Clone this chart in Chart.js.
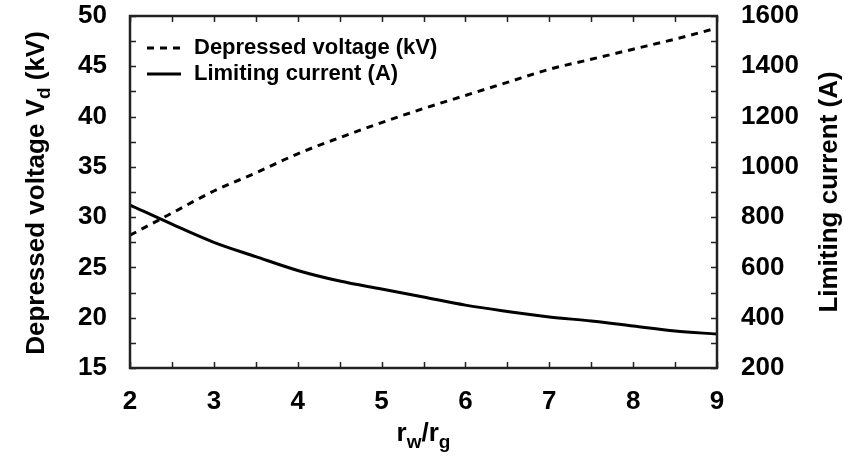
<!DOCTYPE html>
<html>
<head>
<meta charset="utf-8">
<script src="https://cdn.jsdelivr.net/npm/chart.js@4"></script>
<style>
  html, body { margin: 0; padding: 0; background: #fff; }
  canvas { display: block; }
</style>
</head>
<body>
<canvas id="chart" width="844" height="457"></canvas>
<script>
// values
const rRatio = [2, 2.5, 3, 3.5, 4, 4.5, 5, 5.5, 6, 6.5, 7, 7.5, 8, 8.5, 9];
const depressedVoltage = [28.2, 30.4, 32.6, 34.4, 36.3, 37.9, 39.4, 40.8, 42.1, 43.4, 44.7, 45.7, 46.7, 47.7, 48.8];
const limitingCurrent = [848, 772, 700, 643, 588, 546, 514, 482, 450, 425, 403, 387, 367, 347, 335];

const xTicks = [2, 3, 4, 5, 6, 7, 8, 9];
const leftTicks = [15, 20, 25, 30, 35, 40, 45, 50];
const rightTicks = [200, 400, 600, 800, 1000, 1200, 1400, 1600];

const legendLabels = ['Depressed voltage (kV)', 'Limiting current (A)'];

const FONT = '"Liberation Sans", Arial, sans-serif';

// text with a subscript part, pieces = [[text, isSub], ...]
function pieceWidth(ctx, pieces, size, subSize) {
    let w = 0;
    pieces.forEach(p => {
        ctx.font = 'bold ' + (p[1] ? subSize : size) + 'px ' + FONT;
        w += ctx.measureText(p[0]).width;
    });
    return w;
}
function drawPieces(ctx, pieces, x, y, size, subSize, subDrop) {
    pieces.forEach(p => {
        ctx.font = 'bold ' + (p[1] ? subSize : size) + 'px ' + FONT;
        ctx.fillText(p[0], x, p[1] ? y + subDrop : y);
        x += ctx.measureText(p[0]).width;
    });
}

const framePlugin = {
    id: 'frame',
    afterDraw(chart) {
        const ctx = chart.ctx;
        const a = chart.chartArea;
        const xs = chart.scales.x, yl = chart.scales.y, yr = chart.scales.y1;
        const tl = 6;
        ctx.save();
        ctx.strokeStyle = '#222';
        ctx.lineWidth = 1.5;
        ctx.beginPath();
        // inward ticks
        for (let v = 2; v <= 9.001; v += 0.5) {
            const px = Math.round(xs.getPixelForValue(v)) + 0.5;
            ctx.moveTo(px, a.bottom); ctx.lineTo(px, a.bottom - tl);
            ctx.moveTo(px, a.top); ctx.lineTo(px, a.top + tl);
        }
        for (let v = 15; v <= 50.001; v += 2.5) {
            const py = Math.round(yl.getPixelForValue(v)) + 0.5;
            ctx.moveTo(a.left, py); ctx.lineTo(a.left + tl, py);
        }
        for (let v = 200; v <= 1600.001; v += 100) {
            const py = Math.round(yr.getPixelForValue(v)) + 0.5;
            ctx.moveTo(a.right, py); ctx.lineTo(a.right - tl, py);
        }
        ctx.stroke();
        ctx.lineWidth = 2.5;
        ctx.strokeRect(a.left, a.top, a.right - a.left, a.bottom - a.top);

        // legend
        ctx.fillStyle = '#000';
        ctx.textBaseline = 'middle';
        ctx.textAlign = 'left';
        chart.data.datasets.forEach((ds, i) => {
            const y = 48 + i * 26;
            ctx.strokeStyle = ds.borderColor;
            ctx.lineWidth = ds.borderWidth;
            ctx.setLineDash(ds.borderDash || []);
            ctx.beginPath();
            ctx.moveTo(147, y); ctx.lineTo(181, y);
            ctx.stroke();
            ctx.setLineDash([]);
            ctx.font = 'bold 22px ' + FONT;
            ctx.fillText(legendLabels[i], 194, y);
        });

        // axis titles
        ctx.textBaseline = 'alphabetic';
        const leftTitle = [['Depressed voltage V', false], ['d', true], [' (kV)', false]];
        const rightTitle = [['Limiting current (A)', false]];
        const xTitle = [['r', false], ['w', true], ['/r', false], ['g', true]];

        let w = pieceWidth(ctx, leftTitle, 26, 19);
        ctx.save();
        ctx.translate(44, 193);
        ctx.rotate(-Math.PI / 2);
        drawPieces(ctx, leftTitle, -w / 2, 0, 26, 19, 6);
        ctx.restore();

        w = pieceWidth(ctx, rightTitle, 26, 19);
        ctx.save();
        ctx.translate(837, 192);
        ctx.rotate(-Math.PI / 2);
        drawPieces(ctx, rightTitle, -w / 2, 0, 26, 19, 6);
        ctx.restore();

        w = pieceWidth(ctx, xTitle, 26, 19);
        drawPieces(ctx, xTitle, (a.left + a.right) / 2 - w / 2, 441, 26, 19, 7);
        ctx.restore();
    }
};

const tickFont = { family: FONT, size: 26, weight: 'bold' };

new Chart(document.getElementById('chart'), {
    type: 'line',
    data: {
        datasets: [{
            label: legendLabels[0],
            data: rRatio.map((r, i) => ({ x: r, y: depressedVoltage[i] })),
            yAxisID: 'y',
            borderColor: '#000',
            borderWidth: 3,
            borderDash: [7, 6],
            pointRadius: 0,
            cubicInterpolationMode: 'monotone',
            fill: false
        }, {
            label: legendLabels[1],
            data: rRatio.map((r, i) => ({ x: r, y: limitingCurrent[i] })),
            yAxisID: 'y1',
            borderColor: '#000',
            borderWidth: 3,
            pointRadius: 0,
            cubicInterpolationMode: 'monotone',
            fill: false
        }]
    },
    options: {
        responsive: false,
        animation: false,
        layout: { padding: { top: 16, left: 0, right: 0, bottom: 0 } },
        plugins: { legend: { display: false }, tooltip: { enabled: false } },
        scales: {
            x: {
                type: 'linear',
                min: 2, max: 9,
                grid: { display: false },
                border: { display: false },
                afterBuildTicks: s => { s.ticks = xTicks.map(v => ({ value: v })); },
                afterFit: s => { s.height = 89; s.paddingLeft = 0; s.paddingRight = 0; },
                ticks: { color: '#000', font: tickFont, padding: 10, maxRotation: 0,
                         callback: v => String(v) }
            },
            y: {
                position: 'left',
                min: 15, max: 50,
                grid: { display: false },
                border: { display: false },
                afterBuildTicks: s => { s.ticks = leftTicks.map(v => ({ value: v })); },
                afterFit: s => { s.width = 130; s.paddingTop = 0; s.paddingBottom = 0; },
                ticks: { color: '#000', font: tickFont, padding: 15, callback: v => String(v) }
            },
            y1: {
                position: 'right',
                min: 200, max: 1600,
                grid: { display: false },
                border: { display: false },
                afterBuildTicks: s => { s.ticks = rightTicks.map(v => ({ value: v })); },
                afterFit: s => { s.width = 127; s.paddingTop = 0; s.paddingBottom = 0; },
                ticks: { color: '#000', font: tickFont, padding: 16, callback: v => String(v) }
            }
        }
    },
    plugins: [framePlugin]
});
</script>
</body>
</html>
